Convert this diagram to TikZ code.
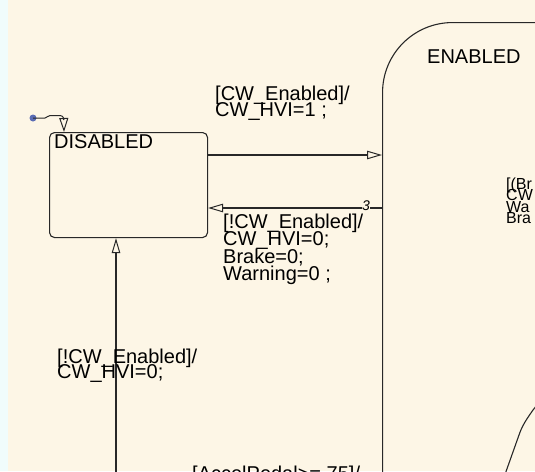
\documentclass[tikz,border=0pt]{standalone}
\usepackage{fontspec}
\setmainfont{Liberation Sans}
\usetikzlibrary{arrows.meta}
\definecolor{bgcream}{RGB}{253,246,230}
\definecolor{stripcyan}{RGB}{240,252,252}
\definecolor{linedark}{RGB}{40,40,40}
\definecolor{initblue}{RGB}{90,108,180}
\tikzset{
  lbl/.style={anchor=base west, inner sep=0pt, font=\fontsize{20}{20}\selectfont, text=black},
  smalllbl/.style={anchor=base west, inner sep=0pt, font=\fontsize{16}{16}\selectfont, text=black},
  statebox/.style={draw=linedark, line width=1.1pt},
  trans/.style={draw=linedark, line width=1.1pt, -{Triangle[open, length=15pt, width=8.5pt, line width=1pt]}},
  inittrans/.style={draw=linedark, line width=1pt, -{Triangle[open, length=14pt, width=9pt, line width=1pt]}},
}
\begin{document}
\begin{tikzpicture}[x=1pt,y=-1pt]
\useasboundingbox (0,0) rectangle (535,471);
\clip (0,0) rectangle (535,471);
\fill[bgcream] (0,0) rectangle (535,471);
\fill[stripcyan] (0,0) rectangle (8,471);

% states
\node[statebox, rounded corners=5pt, minimum width=158pt, minimum height=105pt, anchor=north west, inner sep=0pt] (dis) at (49,132) {};
\node[lbl] (distxt) at (54,148) {DISABLED};
\node[statebox, rounded corners=70pt, minimum width=320pt, minimum height=600pt, anchor=north west, inner sep=0pt] (en) at (382,22) {};
\node[lbl] (entxt) at (427,63.5) {ENABLED};

% helper coordinates
\coordinate (y1) at (0,155);
\coordinate (y2) at (0,208);
\coordinate (ix) at (64,0);
\coordinate (bot) at (116,490);

% default transition
\node[circle, fill=initblue, inner sep=0pt, minimum size=7pt] (init) at (33,118) {};
\draw[inittrans] (init.center) -- (45,118) .. controls (47.5,118) and (47,115.5) .. (50,115.5) -- (58,115.5) .. controls (62,115.5) and (63.5,116) .. (63.8,120) -- (dis.north -| ix);

% transitions
\draw[trans] (dis.east |- y1) -- (en.west |- y1);
\draw[trans] (en.west |- y2) -- (dis.east |- y2);
\draw[trans] (bot) -- (dis.south -| bot);

% right partial state
\draw[statebox] (545,395) -- (533,410) .. controls (526,420) and (522,426) .. (519,435) -- (503,480);

% labels
\node[lbl] (l1a) at (215,100) {[CW\_Enabled]/};
\node[lbl] (l1b) at (215,116) {CW\_HVI=1 ;};

\node[lbl] (l2a) at (223,228) {[!CW\_Enabled]/};
\node[lbl] (l2b) at (223,245) {CW\_HVI=0;};
\node[lbl] (l2c) at (223,263) {Brake=0;};
\node[lbl] (l2d) at (223,280) {Warning=0 ;};
\node[font=\fontsize{14}{14}\selectfont\itshape, fill=bgcream, inner sep=0.5pt] (three) at (366,205.5) {3};

\node[lbl] (l3a) at (57,363) {[!CW\_Enabled]/};
\node[lbl] (l3b) at (57,378) {CW\_HVI=0;};

\node[smalllbl] (r1) at (506,189) {[(Br};
\node[smalllbl] (r2) at (506,200.5) {CW};
\node[smalllbl] (r3) at (506,212) {Wa};
\node[smalllbl] (r4) at (506,223.5) {Bra};

\node[lbl] (l4) at (192,480) {[AccelPedal>=.75]/};
\end{tikzpicture}
\end{document}
